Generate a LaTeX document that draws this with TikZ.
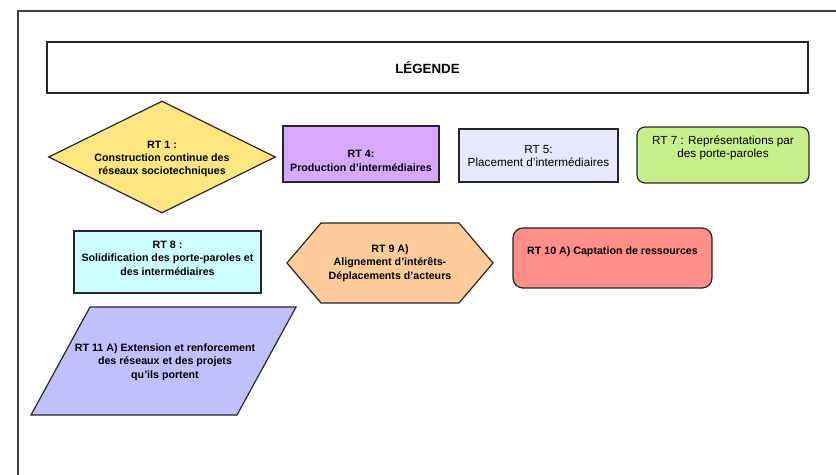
\documentclass[tikz,border=0pt]{standalone}
\usepackage{fontspec}
\setmainfont{Liberation Sans}
\usetikzlibrary{shapes.geometric}

\definecolor{rtyellow}{HTML}{FFE680}
\definecolor{rtpurple}{HTML}{D8A8FF}
\definecolor{rtlavender}{HTML}{E8E8FC}
\definecolor{rtgreen}{HTML}{C6F08C}
\definecolor{rtcyan}{HTML}{CCFFFF}
\definecolor{rtpeach}{HTML}{FFCC99}
\definecolor{rtsalmon}{HTML}{FF8F8A}
\definecolor{rtblue}{HTML}{C0C0FF}

\begin{document}
\begin{tikzpicture}[x=0.75pt, y=-0.75pt, every node/.style={font=\fontsize{8}{10}\selectfont\bfseries}, align=center]
  \tikzset{box/.style={rectangle, draw=black!85, line width=0.9pt, inner sep=0pt}, rbox/.style={box, rounded corners=6pt}, shp/.style={draw=black!85, line width=0.9pt}, txt/.style={inner sep=0pt, align=center}, thin txt/.style={txt, font=\fontsize{8.8}{10}\selectfont}, frame/.style={draw=black!75, line width=1.1pt}}
  \useasboundingbox (0,0) rectangle (836,475);
  \draw[frame] (18,475) -- (18,11) -- (836,11);
  \node[box, minimum width=570.75pt, minimum height=38.25pt, font=\fontsize{10}{12}\selectfont\bfseries] (legende) at (427.5,67.5) {LÉGENDE};
  % premiere rangee
  \node[diamond, shp, fill=rtyellow, minimum width=170.25pt, minimum height=84pt, inner sep=0pt] (rt1) at (162,157) {};
  \node[txt] (rt1t) at (162,159) {RT 1 :\\Construction continue des\\réseaux sociotechniques};
  \node[box, fill=rtpurple, minimum width=117pt, minimum height=42pt] (rt4) at (361,154) {};
  \node[txt] (rt4t) at (361,161) {RT 4:\\Production d'intermédiaires};
  \node[box, fill=rtlavender, minimum width=119.25pt, minimum height=39.75pt] (rt5) at (538.5,155.5) {};
  \node[thin txt] (rt5t) at (538.5,156) {RT 5:\\Placement d'intermédiaires};
  \node[rbox, fill=rtgreen, minimum width=129pt, minimum height=42pt] (rt7) at (723,155) {};
  \node[thin txt] (rt7t) at (723,148) {RT 7 : Représentations par\\des porte-paroles};
  % deuxieme rangee
  \node[box, fill=rtcyan, minimum width=140.25pt, minimum height=46.5pt] (rt8) at (167.5,262) {};
  \node[txt] (rt8t) at (167.5,258) {RT 8 :\\Solidification des porte-paroles et\\des intermédiaires};
  \draw[shp, fill=rtpeach] (287,263) -- (321,223) -- (459,223) -- (493,263) -- (459,303) -- (321,303) -- cycle;
  \node[txt] (rt9t) at (390,263) {RT 9 A)\\Alignement d'intérêts-\\Déplacements d'acteurs};
  \node[rbox, rounded corners=7.5pt, fill=rtsalmon, minimum width=149.25pt, minimum height=45pt] (rt10) at (612.5,258) {};
  \node[txt] (rt10t) at (612.5,252) {RT 10 A) Captation de ressources};
  % troisieme rangee
  \draw[shp, fill=rtblue] (31,415) -- (90,307) -- (296,307) -- (237,415) -- cycle;
  \node[txt] (rt11t) at (165,362) {RT 11 A) Extension et renforcement\\des réseaux et des projets\\qu'ils portent};
\end{tikzpicture}
\end{document}
